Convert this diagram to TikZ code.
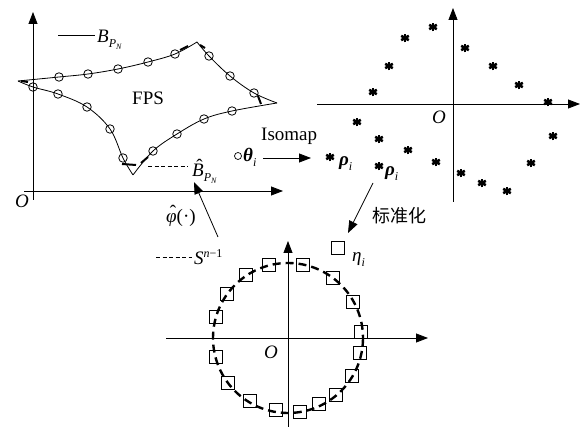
\documentclass[tikz,border=0pt]{standalone}
\usepackage{fontspec}
\setmainfont{Liberation Serif}
\newfontfamily\cjk{Noto Sans CJK SC}
\usetikzlibrary{arrows.meta}
\newcommand\subsc[1]{\raisebox{-4.5pt}{\fontsize{12}{12}\selectfont #1}}
\newcommand\hatit[1]{\setbox0\hbox{#1}\rlap{\hbox to\wd0{\hss\kern3pt\raisebox{4.5pt}{\upshape\char"02C6}\hss}}\box0}
\newcommand\mystar[1]{\foreach \a in {90,30,150}{\draw[starline] #1 ++(\a:4.4) -- ++(\a+180:8.8);}}
\tikzset{
  lbl/.style={font=\fontsize{19}{19}\selectfont, inner sep=0pt},
  axis/.style={line width=0.8pt, -{Triangle[length=12pt,width=9pt]}},
  arr/.style={line width=0.8pt, -{Triangle[length=12pt,width=9pt]}},
  curve/.style={line width=0.8pt},
  est/.style={line width=2pt},
  mk/.style={draw, circle, line width=0.8pt, minimum size=8.5pt, inner sep=0pt},
  sq/.style={draw, rectangle, line width=0.8pt, minimum size=13pt, inner sep=0pt},
  starline/.style={line width=2.6pt},
  sphere/.style={line width=2.4pt, dash pattern=on 8pt off 5pt},
}
\begin{document}
\begin{tikzpicture}[x=1pt,y=-1pt]
\useasboundingbox (0,0) rectangle (586,427);
% ---------------- top-left plot ----------------
\coordinate (ax1y) at (33,12);
\coordinate (ax1x0) at (24,191);
\coordinate (ax1x) at (283,191);
\coordinate (ax1yb) at (33,200);
\draw[axis] (ax1yb) -- (ax1y);
\draw[axis] (ax1x0) -- (ax1x);
\node[lbl, font=\fontsize{19}{19}\selectfont\itshape] (o1) at (22,201) {O};
% boundary curve
\draw[curve] plot[smooth, tension=0.6] coordinates {(18,81) (59,77) (88,74) (118,69) (148,62) (175,54) (197,42)};
\draw[curve] plot[smooth, tension=0.6] coordinates {(197,42) (209,56) (230,76) (254,93) (277,103)};
\draw[curve] plot[smooth, tension=0.6] coordinates {(277,103) (232,111) (204,119) (177,134) (153,151) (133,175)};
\draw[curve] plot[smooth, tension=0.6] coordinates {(133,175) (123,158) (110,129) (87,107) (58,94) (33,87) (18,81)};
% estimated boundary pieces
\draw[est] (21,81) -- (28,82);
\draw[est] (180,50) -- (188,46);
\draw[est] (200,45) -- (205,48);
\draw[est] (258,96) -- (261,104);
\draw[est] (122,164) -- (136,165);
\draw[est] (141,163) -- (148,157);
% sample circles
\foreach \p [count=\k] in {(59,77),(88,74),(118,69),(148,62),(175,54),(209,56),(230,76),(254,93),(232,111),(204,119),(177,134),(153,151),(123,158),(110,129),(87,107),(58,94),(33,87)}
  {\node[mk] (c\k) at \p {};}
\node[lbl, anchor=base west] (fps) at (132,105) {FPS};
% legends
\coordinate (lg1a) at (58,35); \coordinate (lg1b) at (95,35);
\draw[curve] (lg1a) -- (lg1b);
\node[lbl, anchor=base west] (bpn) at (97,43) {\itshape B\subsc{P\raisebox{-2.5pt}{\fontsize{8}{8}\selectfont N}}};
\coordinate (lg2a) at (148,166); \coordinate (lg2b) at (188,166);
\draw[curve, dash pattern=on 4pt off 2.5pt] (lg2a) -- (lg2b);
\node[lbl, anchor=base west] (bhat) at (192,177) {\itshape \hatit{B}\subsc{P\raisebox{-2.5pt}{\fontsize{8}{8}\selectfont N}}};
% phi hat
\node[lbl, anchor=base west] (phi) at (166,223) {{\itshape \hatit{φ}}(·)};
\coordinate (phia) at (218,237); \coordinate (phib) at (194,182);
\draw[arr] (phia) -- (phib);
% S^{n-1}
\coordinate (lg3a) at (156,257); \coordinate (lg3b) at (192,257);
\draw[curve, dash pattern=on 4pt off 2.5pt] (lg3a) -- (lg3b);
\node[lbl, anchor=base west] (sn) at (194,265) {\itshape S\raisebox{7.5pt}{\fontsize{12}{12}\selectfont n\upshape −1}};
% ---------------- Isomap ----------------
\node[lbl, anchor=base west] (iso) at (261,141) {Isomap};
\node[draw, circle, line width=0.7pt, minimum size=7pt, inner sep=0pt] (thc) at (238,156) {};
\node[lbl, anchor=base west] (th) at (243,162) {\bfseries\itshape θ\subsc{\mdseries i}};
\coordinate (isoa) at (263,158); \coordinate (isob) at (311,158);
\draw[arr] (isoa) -- (isob);
% ---------------- top-right plot ----------------
\coordinate (ax2y0) at (453,202); \coordinate (ax2y) at (453,8);
\coordinate (ax2x0) at (317,104); \coordinate (ax2x) at (580,104);
\draw[axis] (ax2y0) -- (ax2y);
\draw[axis] (ax2x0) -- (ax2x);
\node[lbl, font=\fontsize{19}{19}\selectfont\itshape] (o2) at (439,117) {O};
\foreach \p in {(433,27),(405,38),(389,66),(373,92),(357,122),(379,139),(408,150),(436,162),(461,173),(482,183),(507,191),(531,163),(553,136),(548,102),(519,85),(493,66),(465,48),(330,157),(379,166)}
  {\mystar{\p}}
\node[lbl, anchor=base west] (rho1) at (339,166) {\bfseries\itshape ρ\subsc{\mdseries i}};
\node[lbl, anchor=base west] (rho2) at (385,176) {\bfseries\itshape ρ\subsc{\mdseries i}};
% normalisation arrow
\coordinate (nra) at (373,183); \coordinate (nrb) at (348,233);
\draw[arr] (nra) -- (nrb);
\node[lbl, font=\fontsize{18}{18}\selectfont\cjk] (norm) at (399,216) {标准化};
% ---------------- bottom plot ----------------
\coordinate (ax3y0) at (288,427); \coordinate (ax3y) at (288,241);
\coordinate (ax3x0) at (166,338); \coordinate (ax3x) at (428,338);
\draw[axis] (ax3y0) -- (ax3y);
\draw[axis] (ax3x0) -- (ax3x);
\node[lbl, font=\fontsize{19}{19}\selectfont\itshape] (o3) at (271,352) {O};
\coordinate (ctr) at (288,338);
\draw[sphere] (ctr) circle[radius=75];
\foreach \p [count=\k] in {(269,265),(246,275),(227,294),(216,317),(216,357),(228,383),(250,401),(276,410),(300,412),(319,404),(336,395),(352,376),(360,353),(361,332),(353,302),(333,278),(303,265)}
  {\node[sq] (s\k) at \p {};}
\node[sq] (sqleg) at (338,248) {};
\node[lbl, anchor=base west] (eta) at (352,262) {\itshape η\subsc{i}};
\end{tikzpicture}
\end{document}
